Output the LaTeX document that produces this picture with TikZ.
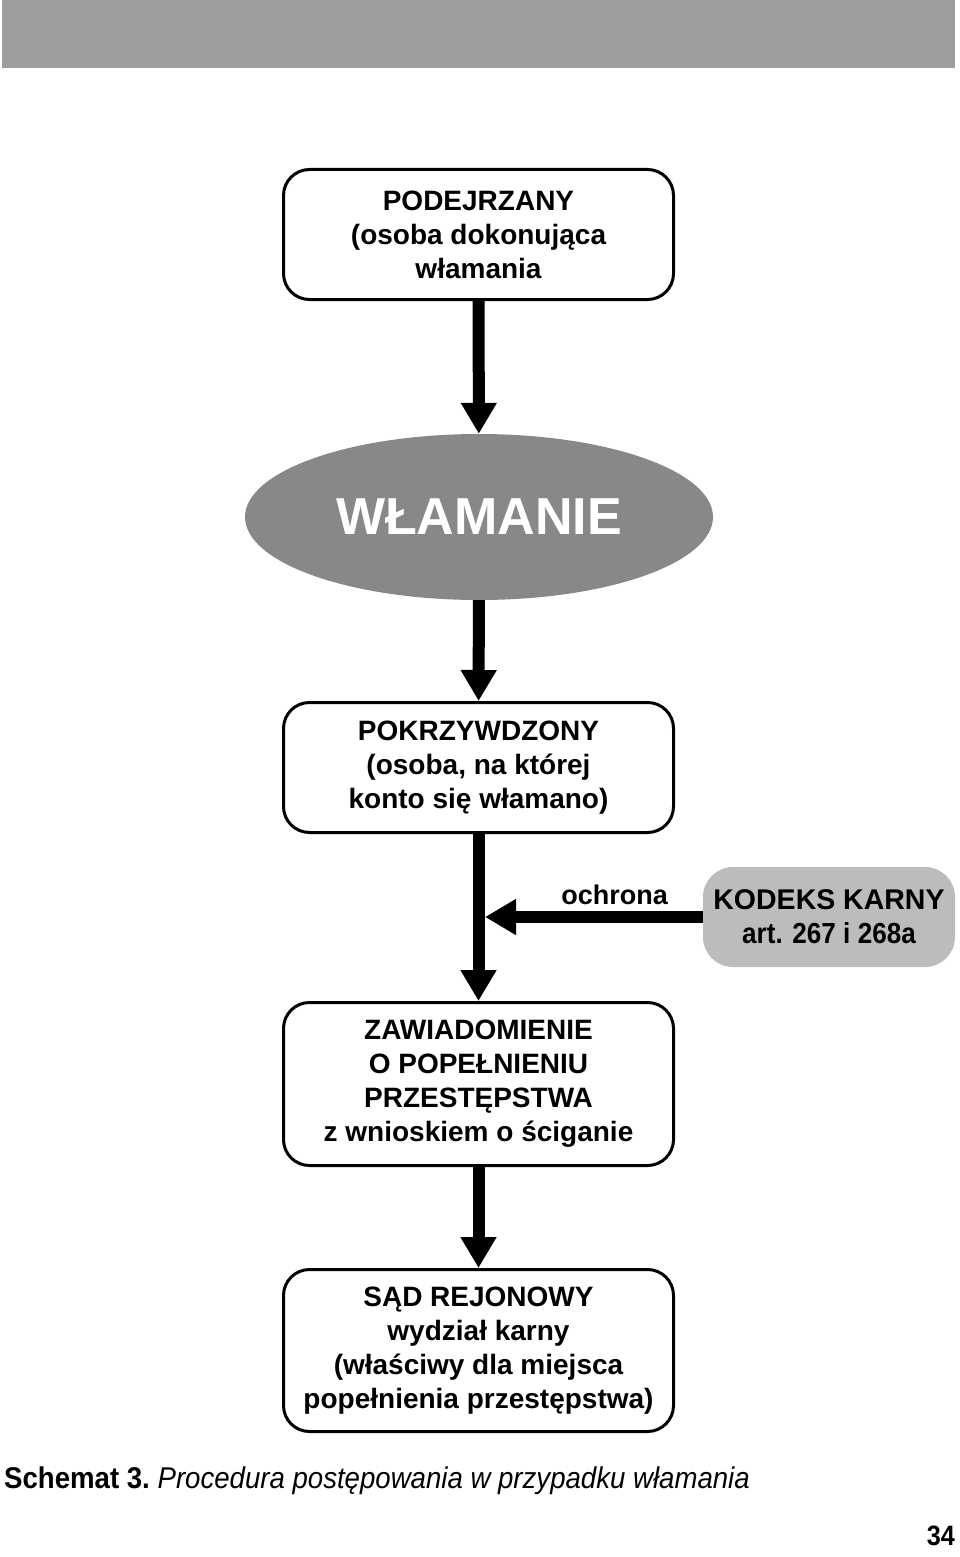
\documentclass[tikz,border=0pt]{standalone}
\usepackage{fontspec}
\setmainfont{Liberation Sans}
\newfontfamily\condfont[FakeStretch=0.9]{Liberation Sans}
\newfontfamily\capfont[FakeStretch=0.92]{Liberation Sans}
\usetikzlibrary{arrows.meta,shapes.geometric}
\definecolor{bandgray}{RGB}{158,158,160}
\definecolor{ovalgray}{RGB}{135,136,138}
\definecolor{lawgray}{RGB}{188,188,189}

\begin{document}
\begin{tikzpicture}[x=1pt,y=1pt,yscale=-1,xscale=1,
	flowbox/.style={draw=black,line width=3pt,rounded corners=26pt,fill=white,minimum width=390pt,align=center,inner sep=0pt,font=\fontsize{28}{34}\selectfont\bfseries},
	fatarrow/.style={line width=12pt,-{Triangle[length=31pt,width=34pt]}}
	]
	\useasboundingbox (0,0) rectangle (960,1557);
	
	%Shape: Rectangle (top band)
	\fill [bandgray] (2,0) rectangle (955,68) ;
	
	%Shape: Boxes and oval
	\node (susp) [flowbox,minimum height=130pt] at (478.5,234.5) {PODEJRZANY\\(osoba dokonująca\\włamania};
	\node (burg) [ellipse,fill=ovalgray,minimum width=468pt,minimum height=166pt,inner sep=0pt,text=white,font=\fontsize{52}{60}\selectfont\bfseries] at (479,517) {WŁAMANIE};
	\node (vict) [flowbox,minimum height=130pt] at (478.5,767.5) {POKRZYWDZONY\\(osoba, na której\\konto się włamano)};
	\node (notice) [flowbox,minimum height=163pt] at (478.5,1084) {ZAWIADOMIENIE\\O POPEŁNIENIU\\PRZESTĘPSTWA\\z wnioskiem o ściganie};
	\node (court) [flowbox,minimum height=162pt] at (478.5,1350.5) {SĄD REJONOWY\\wydział karny\\(właściwy dla miejsca\\popełnienia przestępstwa)};
	\node (law) [fill=lawgray,rounded corners=30pt,minimum width=252pt,minimum height=100pt,inner sep=0pt,align=center,font=\fontsize{28.5}{34}\selectfont\bfseries] at (829,917) {KODEKS KARNY\\{\condfont\fontsize{29}{34}\selectfont\bfseries art. 267 i 268a}};
	
	%Connectors
	\coordinate (join) at (485,917);
	\draw [fatarrow] (susp) -- (burg);
	\draw [fatarrow] (burg) -- (vict);
	\draw [fatarrow] (vict) -- (notice);
	\draw [fatarrow] (notice) -- (court);
	\draw [fatarrow] (law.west) -- (join);
	
	% Text Node
	\node (prot) [anchor=base east,inner sep=0pt,font=\fontsize{27}{32}\selectfont\bfseries] at (668,904) {ochrona};
	% Text Node
	\node (cap) [anchor=base west,inner sep=0pt,font=\capfont\fontsize{30}{36}\selectfont] at (4,1488) {\bfseries Schemat 3.\ \mdseries\itshape Procedura postępowania w przypadku włamania};
	% Text Node
	\node (page) [anchor=base east,inner sep=0pt,font=\condfont\fontsize{28}{34}\selectfont\bfseries] at (955,1545) {34};
	
\end{tikzpicture}
\end{document}
